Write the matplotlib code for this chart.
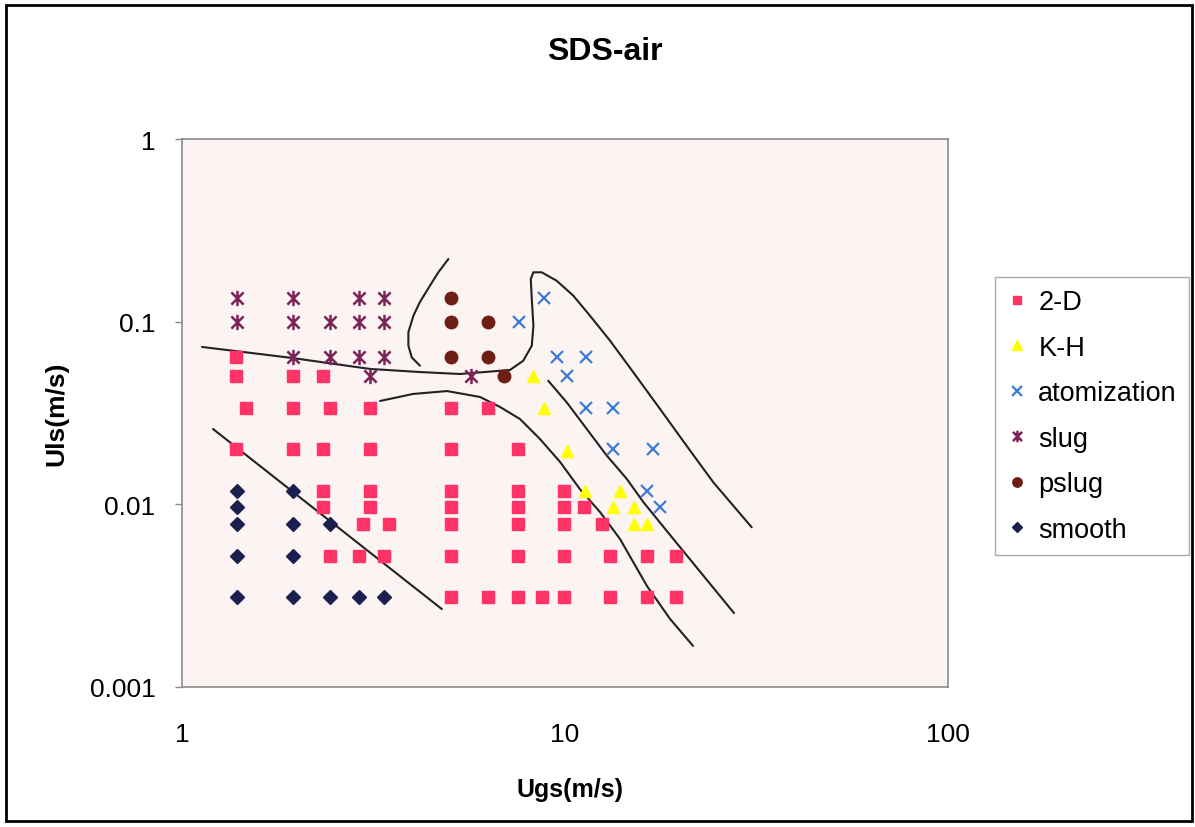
import matplotlib
matplotlib.use("Agg")
import matplotlib.pyplot as plt
from matplotlib.path import Path
from matplotlib.patches import Rectangle

plt.rcParams["font.family"] = ["Liberation Sans", "DejaVu Sans"]

# measured points, Ugs (m/s) vs Uls (m/s)
twod_x = [1.38,
          1.38, 1.95, 2.34,
          1.47, 1.95, 2.43, 3.10, 5.04, 6.30,
          1.38, 1.95, 2.34, 3.10, 5.04, 7.54,
          2.34, 3.10, 5.04, 7.54, 9.94,
          2.34, 3.10, 5.04, 7.54, 9.94, 11.21,
          2.97, 3.47, 5.04, 7.54, 9.94, 12.50,
          2.43, 2.89, 3.36, 5.04, 7.54, 9.94, 13.11, 16.37, 19.49,
          5.04, 6.30, 7.54, 8.71, 9.94, 13.11, 16.37, 19.49]
twod_y = [0.0637,
          0.0507, 0.0507, 0.0507,
          0.0335, 0.0335, 0.0335, 0.0335, 0.0335, 0.0335,
          0.0201, 0.0201, 0.0201, 0.0201, 0.0201, 0.0201,
          0.0118, 0.0118, 0.0118, 0.0118, 0.0118,
          0.0097, 0.0097, 0.0097, 0.0097, 0.0097, 0.0097,
          0.0078, 0.0078, 0.0078, 0.0078, 0.0078, 0.0078,
          0.0052, 0.0052, 0.0052, 0.0052, 0.0052, 0.0052, 0.0052, 0.0052, 0.0052,
          0.0031, 0.0031, 0.0031, 0.0031, 0.0031, 0.0031, 0.0031, 0.0031]

kh_x = [8.25, 8.84, 10.12, 11.28, 13.92, 13.31, 15.14, 15.14, 16.37]
kh_y = [0.0507, 0.0335, 0.0196, 0.0118, 0.0118, 0.0097, 0.0097, 0.0078, 0.0078]

atom_x = [8.84, 7.59, 9.53, 11.35, 10.12, 11.35, 13.31, 13.31, 17.02, 16.37, 17.65]
atom_y = [0.134, 0.100, 0.0637, 0.0637, 0.0507, 0.0335, 0.0335, 0.0201, 0.0201, 0.0118, 0.0097]

slug_x = [1.39, 1.39, 1.95, 1.95, 1.95, 2.43, 2.43, 2.89, 2.89, 2.89,
          3.36, 3.36, 3.36, 3.10, 5.68]
slug_y = [0.134, 0.100, 0.134, 0.100, 0.0637, 0.100, 0.0637, 0.134, 0.100, 0.0637,
          0.134, 0.100, 0.0637, 0.0507, 0.0507]

pslug_x = [5.04, 5.04, 6.30, 5.04, 6.30, 6.93]
pslug_y = [0.134, 0.100, 0.100, 0.0637, 0.0637, 0.0507]

smooth_x = [1.39, 1.95, 1.39, 1.39, 1.95, 2.43, 1.39, 1.95, 1.39, 1.95, 2.43, 2.89, 3.36]
smooth_y = [0.0118, 0.0118, 0.0097, 0.0078, 0.0078, 0.0078, 0.0052, 0.0052,
            0.0031, 0.0031, 0.0031, 0.0031, 0.0031]

# hand drawn regime boundaries (data coords)
bnd_smooth_x = [1.205, 4.77]
bnd_smooth_y = [0.02585, 0.00267]

bnd_slug_x = [1.128, 1.937, 3.097, 4.182, 5.318, 7.184]
bnd_slug_y = [0.0727, 0.0633, 0.0551, 0.0530, 0.0517, 0.0544]

bnd_pslug_x = [4.96, 4.67, 4.44, 4.18, 4.02, 3.90, 3.90, 3.98, 4.18]
bnd_pslug_y = [0.2203, 0.1863, 0.1574, 0.1281, 0.1078, 0.0875, 0.0739, 0.0638, 0.0574]

bnd_atom_x = [7.184, 7.78, 8.19, 8.27, 8.19, 8.14, 8.27, 8.69, 9.51, 10.51,
              11.62, 13.11, 15.08, 17.70, 20.78, 24.39, 30.72]
bnd_atom_y = [0.0544, 0.0611, 0.0739, 0.0950, 0.1331, 0.1713, 0.1863, 0.1863, 0.1676, 0.1388,
              0.1078, 0.0787, 0.0528, 0.0333, 0.0209, 0.0132, 0.00749]

bnd_kh_x = [9.04, 10.10, 11.39, 12.85, 14.49, 16.01, 19.18, 27.62]
bnd_kh_y = [0.0475, 0.0362, 0.0259, 0.0185, 0.0138, 0.0103, 0.00646, 0.00254]

bnd_2d_x = [3.29, 4.01, 4.92, 6.00, 6.77, 7.63, 8.60, 9.70, 10.94, 12.34,
            13.92, 16.37, 18.80, 21.59]
bnd_2d_y = [0.0368, 0.0402, 0.0417, 0.0387, 0.0341, 0.0293, 0.0228, 0.0171, 0.0121, 0.00908,
            0.00646, 0.00357, 0.00236, 0.00168]

star = Path([(-1, -1), (1, 1), (-1, 1), (1, -1), (0, -1.25), (0, 1.25)],
            [Path.MOVETO, Path.LINETO] * 3)

fig = plt.figure(figsize=(11.95, 8.28), dpi=100)
ax = fig.add_axes([182 / 1195, 1 - 688 / 828, 766 / 1195, 548 / 828])
ax.set_facecolor("#fcf3f3")
ax.set_xscale("log")
ax.set_yscale("log")
ax.set_xlim(1, 100)
ax.set_ylim(0.001, 1)

line_kw = dict(color="#222222", lw=1.5, zorder=2, solid_joinstyle="round",
               solid_capstyle="round")
for bx, by in [(bnd_smooth_x, bnd_smooth_y), (bnd_slug_x, bnd_slug_y),
               (bnd_pslug_x, bnd_pslug_y), (bnd_atom_x, bnd_atom_y),
               (bnd_kh_x, bnd_kh_y), (bnd_2d_x, bnd_2d_y)]:
    ax.plot(bx, by, **line_kw)

ax.plot(twod_x, twod_y, ls="none", marker="s", ms=8, color="#ff3366", label="2-D", zorder=3)
ax.plot(kh_x, kh_y, ls="none", marker="^", ms=9, color="#ffff00", label="K-H", zorder=3)
ax.plot(atom_x, atom_y, ls="none", marker="x", ms=9, mew=1.6, color="#3d7bd6",
        label="atomization", zorder=3)
ax.plot(slug_x, slug_y, ls="none", marker=star, ms=11, mew=1.8, mfc="none",
        color="#7b2457", label="slug", zorder=3)
ax.plot(pslug_x, pslug_y, ls="none", marker="o", ms=9, color="#6e1e14", label="pslug", zorder=3)
ax.plot(smooth_x, smooth_y, ls="none", marker="D", ms=7, color="#1a1f4f", label="smooth", zorder=3)

ax.set_xticks([1, 10, 100])
ax.set_xticklabels(["1", "10", "100"])
ax.set_yticks([0.001, 0.01, 0.1, 1])
ax.set_yticklabels(["0.001", "0.01", "0.1", "1"])
ax.minorticks_off()
ax.tick_params(axis="x", length=0, pad=25, labelsize=19)
ax.tick_params(axis="y", length=5, width=1, color="#888888", pad=14, labelsize=19)
for sp in ax.spines.values():
    sp.set_color("#8a8a8a")
    sp.set_linewidth(1.2)

ax.set_xlabel("Ugs(m/s)", fontsize=18, fontweight="bold")
ax.set_ylabel("Uls(m/s)", fontsize=19, fontweight="bold")
ax.xaxis.set_label_coords(0.5 + 5 / 766, -90 / 548)
ax.yaxis.set_label_coords(-114 / 766, 0.5)

fig.text(605 / 1195, 1 - 52 / 828, "SDS-air", ha="center", va="center",
         fontsize=23, fontweight="bold")

leg = ax.legend(loc="upper left", bbox_to_anchor=(995 / 1195, 1 - 278 / 828),
                bbox_transform=fig.transFigure, borderaxespad=0, fontsize=19.5,
                frameon=True, fancybox=False, edgecolor="#aaaaaa", framealpha=1,
                markerscale=0.75, handlelength=0.7, handletextpad=0.45,
                labelspacing=0.72, borderpad=0.45)
leg.get_frame().set_linewidth(1.0)

fig.patches.append(Rectangle((6 / 1195, 6 / 828), 1186 / 1195, 816 / 828, fill=False,
                             lw=2, edgecolor="black", transform=fig.transFigure))

fig.savefig("out.png", dpi=100, facecolor="white")
